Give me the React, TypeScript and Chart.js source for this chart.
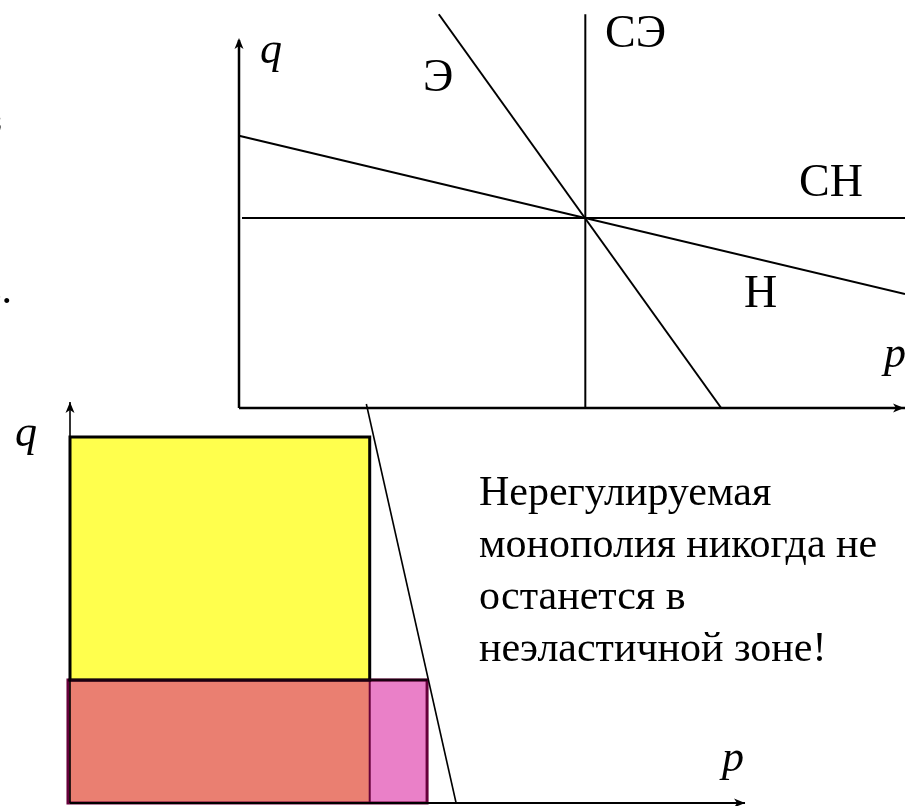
import React, { useEffect, useRef } from "react";
import { Chart, registerables } from "chart.js";

Chart.register(...registerables);

// ---------- Top diagram (price p, quantity q), arbitrary units ----------
const topPRange = [-35.886, 100];
const topQRange = [-108.152, 110.87];
const topAxisP = [[0, 0], [100, 0]];
const topAxisQ = [[0, 0], [0, 100]];
const demandInelastic = [[0, 74], [100, 31]]; // Н
const demandElastic = [[30, 107], [72.4, 0]]; // Э
const perfectlyInelastic = [[0.45, 51.6], [100, 51.6]]; // СН
const perfectlyElastic = [[52, 0], [52, 107]]; // СЭ
const topLabelTexts = ["q", "Э", "СЭ", "СН", "Н", "p"];
const topLabelP = [3.15, 27.63, 54.95, 84.08, 75.83, 96.85];
const topLabelQ = [93.75, 86.14, 98.1, 57.6, 27.45, 11.14];
const topLabelItalic = [true, false, false, false, false, true];

// ---------- Bottom diagram ----------
const botPRange = [-10.37, 123.7];
const botQRange = [-0.748, 200.25];
const botAxisP = [[0, 0], [100, 0]];
const botAxisQ = [[0, 0], [0, 100]];
const yellowP = [0, 44.4];
const yellowQ = [30.7, 91.3];
const pinkP = [-0.3, 52.9];
const pinkQ = [0, 30.7];
const demandBottom = [[43.9, 99.5], [57.2, 0]];
const botLabelTexts = ["q", "p"];
const botLabelP = [-8.15, 96.59];
const botLabelQ = [89.03, 7.98];
const noteLines = [
  "Нерегулируемая",
  "монополия никогда не",
  "останется в",
  "неэластичной зоне!",
];
const noteP = 60.59;
const noteQ = [74.31, 61.35, 48.38, 35.41];

const SERIF = '"Liberation Serif", "Times New Roman", serif';

const toXY = (pts: number[][]) => pts.map(([x, y]) => ({ x, y }));
const rectPts = (p: number[], q: number[]) => [
  { x: p[0], y: q[0] },
  { x: p[1], y: q[0] },
  { x: p[1], y: q[1] },
  { x: p[0], y: q[1] },
  { x: p[0], y: q[0] },
];

function lineDs(
  data: any[],
  xAxisID: string,
  yAxisID: string,
  color: string,
  width: number,
  order: number,
  extra: any = {}
) {
  return {
    type: "line",
    data,
    xAxisID,
    yAxisID,
    borderColor: color,
    borderWidth: width,
    backgroundColor: "transparent",
    pointRadius: 0,
    pointHoverRadius: 0,
    fill: false,
    tension: 0,
    order,
    clip: false,
    borderJoinStyle: "miter",
    borderCapStyle: "butt",
    ...extra,
  };
}

function arrow(ctx: CanvasRenderingContext2D, tx: number, ty: number, dx: number, dy: number) {
  const len = 11;
  const hw = 4.5;
  const notch = 3;
  const bx = tx - dx * len;
  const by = ty - dy * len;
  const nx = -dy;
  const ny = dx;
  ctx.beginPath();
  ctx.moveTo(tx, ty);
  ctx.lineTo(bx + nx * hw, by + ny * hw);
  ctx.lineTo(tx - dx * (len - notch), ty - dy * (len - notch));
  ctx.lineTo(bx - nx * hw, by - ny * hw);
  ctx.closePath();
  ctx.fill();
}

const annotationsPlugin = {
  id: "annotations",
  afterDraw(chart: any) {
    const ctx: CanvasRenderingContext2D = chart.ctx;
    const { x, y, x2, y2 } = chart.scales;
    ctx.save();
    ctx.fillStyle = "#000";
    // axis arrows
    arrow(ctx, x.getPixelForValue(topAxisP[1][0]) - 1, y.getPixelForValue(0), 1, 0);
    arrow(ctx, x.getPixelForValue(0), y.getPixelForValue(topAxisQ[1][1]) - 2, 0, -1);
    arrow(ctx, x2.getPixelForValue(botAxisP[1][0]), y2.getPixelForValue(0), 1, 0);
    arrow(ctx, x2.getPixelForValue(0), y2.getPixelForValue(botAxisQ[1][1]), 0, -1);

    ctx.textAlign = "left";
    ctx.textBaseline = "alphabetic";
    topLabelTexts.forEach((t, i) => {
      ctx.font = topLabelItalic[i] ? `italic 44px ${SERIF}` : `46px ${SERIF}`;
      ctx.fillText(t, x.getPixelForValue(topLabelP[i]), y.getPixelForValue(topLabelQ[i]));
    });
    botLabelTexts.forEach((t, i) => {
      ctx.font = `italic 44px ${SERIF}`;
      ctx.fillText(t, x2.getPixelForValue(botLabelP[i]), y2.getPixelForValue(botLabelQ[i]));
    });
    ctx.font = `42px ${SERIF}`;
    noteLines.forEach((t, i) => {
      ctx.fillText(t, x2.getPixelForValue(noteP), y2.getPixelForValue(noteQ[i]));
    });
    // clipped fragments of text at the left edge
    ctx.font = `42px ${SERIF}`;
    ctx.textAlign = "right";
    ctx.fillText("з", 2, 133);
    ctx.fillText("з.", 12, 303);
    ctx.restore();
  },
};

export default function App() {
  const ref = useRef<HTMLCanvasElement | null>(null);

  useEffect(() => {
    if (!ref.current) return;
    const datasets: any[] = [
      // bottom: fills
      lineDs(rectPts([pinkP[0], yellowP[1]], pinkQ), "x2", "y2", "transparent", 0, 20, {
        fill: "shape",
        backgroundColor: "#EA7F71",
      }),
      lineDs(rectPts([yellowP[1], pinkP[1]], pinkQ), "x2", "y2", "transparent", 0, 20, {
        fill: "shape",
        backgroundColor: "#EA80C8",
      }),
      lineDs(rectPts(pinkP, pinkQ), "x2", "y2", "#66003A", 3, 15, {
        borderCapStyle: "square",
      }),
      lineDs(toXY([[yellowP[1], pinkQ[0]], [yellowP[1], pinkQ[1]]]), "x2", "y2", "#66003A", 2, 14),
      lineDs(rectPts(yellowP, yellowQ), "x2", "y2", "#000", 3, 12, {
        fill: "shape",
        backgroundColor: "#FFFF4D",
        borderCapStyle: "square",
      }),
      lineDs(toXY([[pinkP[0], pinkQ[1]], [pinkP[1], pinkQ[1]]]), "x2", "y2", "#1a0010", 2.5, 11),
      lineDs(toXY(demandBottom), "x2", "y2", "#000", 1.6, 5),
      lineDs(toXY(botAxisP), "x2", "y2", "#000", 2, 4),
      lineDs(toXY(botAxisQ), "x2", "y2", "#000", 1.6, 4),
      // top diagram
      lineDs(toXY(perfectlyInelastic), "x", "y", "#000", 2, 6),
      lineDs(toXY(perfectlyElastic), "x", "y", "#000", 2, 6),
      lineDs(toXY(demandInelastic), "x", "y", "#000", 2, 6),
      lineDs(toXY(demandElastic), "x", "y", "#000", 2, 6),
      lineDs(toXY(topAxisP), "x", "y", "#000", 2.5, 4),
      lineDs(toXY(topAxisQ), "x", "y", "#000", 2.5, 4),
    ];

    const lin = (axis: string, r: number[]) => ({
      type: "linear",
      axis,
      display: false,
      min: r[0],
      max: r[1],
      bounds: "data",
      grace: 0,
    });

    const chart = new Chart(ref.current, {
      type: "line",
      data: { datasets },
      options: {
        animation: false,
        responsive: false,
        devicePixelRatio: 1,
        events: [],
        layout: { padding: 0 },
        plugins: {
          legend: { display: false },
          tooltip: { enabled: false },
          title: { display: false },
        },
        scales: {
          x: lin("x", topPRange),
          y: lin("y", topQRange),
          x2: lin("x", botPRange),
          y2: lin("y", botQRange),
        },
      } as any,
      plugins: [annotationsPlugin],
    } as any);
    return () => chart.destroy();
  }, []);

  return (
    <div style={{ position: "absolute", left: 0, top: 0, width: 905, height: 806, background: "#fff" }}>
      <canvas ref={ref} width={905} height={806} style={{ display: "block", width: 905, height: 806 }} />
    </div>
  );
}
